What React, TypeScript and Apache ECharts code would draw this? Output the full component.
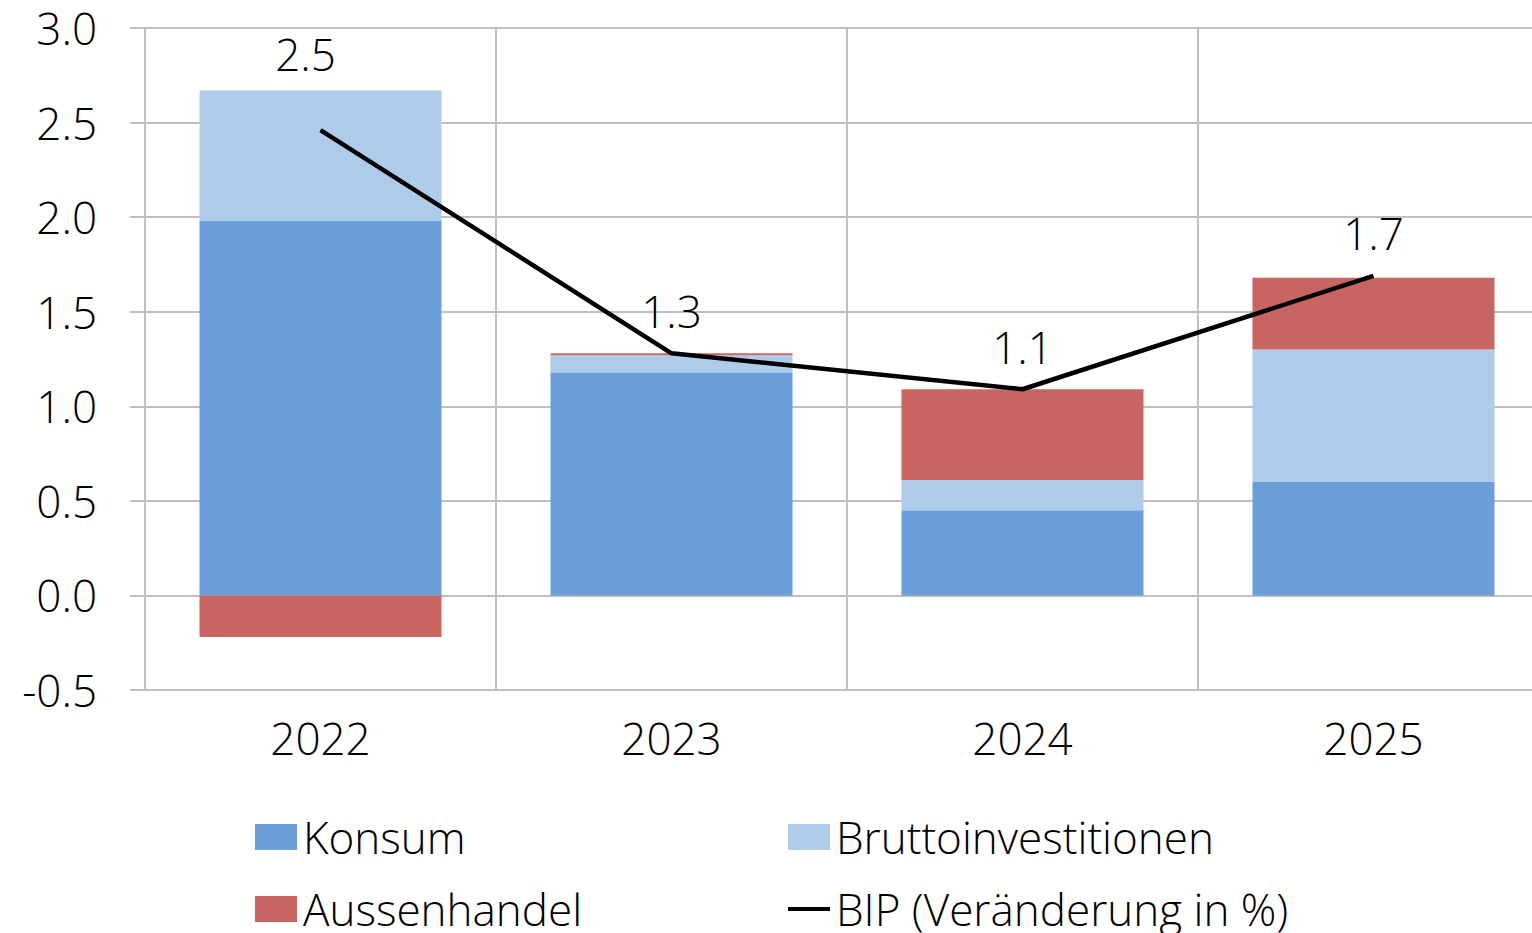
import React, { useEffect, useRef } from "react";
import * as echarts from "echarts";

const years = ["2022", "2023", "2024", "2025"];
const konsum = [1.98, 1.18, 0.45, 0.6];
const brutto = [0.69, 0.09, 0.16, 0.7];
const aussen = [-0.22, 0.01, 0.48, 0.38];
const bip = [2.46, 1.28, 1.09, 1.69];
const seriesNames = ["Konsum", "Bruttoinvestitionen", "Aussenhandel", "BIP (Veränderung in %)"];

const FONT = "Open Sans";
const FS = 44;
const FW = 300;
const GRID = "#BFBFBF";

export default function App() {
  const ref = useRef<HTMLDivElement>(null);
  useEffect(() => {
    if (!ref.current) return;
    const chart = echarts.init(ref.current, null, { renderer: "svg" });
    const legendBase = {
      orient: "horizontal",
      padding: 0,
      itemWidth: 42,
      itemHeight: 26,
      itemGap: 0,
      selectedMode: false,
      textStyle: { fontFamily: FONT, fontSize: FS, fontWeight: FW, color: "#000", lineHeight: 40, padding: [0, 0, 10, 1] },
    };
    chart.setOption({
      animation: false,
      textStyle: { fontFamily: FONT },
      grid: { left: 145, top: 28, right: 11, bottom: 243, containLabel: false },
      legend: [
        { ...legendBase, data: [{ name: seriesNames[0], icon: "rect" }], left: 255, top: 812 },
        { ...legendBase, data: [{ name: seriesNames[1], icon: "rect" }], left: 788, top: 812 },
        { ...legendBase, data: [{ name: seriesNames[2], icon: "rect" }], left: 255, top: 884 },
        {
          ...legendBase,
          data: [{ name: seriesNames[3], icon: "rect", itemStyle: { color: "#000" } }],
          left: 788,
          top: 884,
          itemHeight: 4,
        },
      ],
      xAxis: {
        type: "category",
        data: years,
        boundaryGap: true,
        axisLine: { show: true, lineStyle: { color: GRID, width: 2 } },
        axisTick: { show: false },
        splitLine: { show: true, interval: 0, lineStyle: { color: GRID, width: 2 } },
        axisLabel: { fontFamily: FONT, fontSize: FS, fontWeight: FW, color: "#000", margin: 26 },
      },
      yAxis: {
        type: "value",
        min: -0.5,
        max: 3,
        interval: 0.5,
        axisLine: { show: true, lineStyle: { color: GRID, width: 2 } },
        axisTick: { show: true, length: 15, lineStyle: { color: GRID, width: 2 } },
        splitLine: { show: true, lineStyle: { color: GRID, width: 2 } },
        axisLabel: {
          fontFamily: FONT,
          fontSize: FS,
          fontWeight: FW,
          color: "#000",
          margin: 48,
          formatter: (v: number) => v.toFixed(1),
        },
      },
      series: [
        {
          name: seriesNames[0],
          type: "bar",
          stack: "total",
          barWidth: 242,
          data: konsum,
          itemStyle: { color: "#6A9FDA" },
        },
        {
          name: seriesNames[1],
          type: "bar",
          stack: "total",
          barWidth: 242,
          data: brutto,
          itemStyle: { color: "#AECCE9" },
        },
        {
          name: seriesNames[2],
          type: "bar",
          stack: "total",
          barWidth: 242,
          data: aussen,
          itemStyle: { color: "#C86562" },
        },
        {
          name: seriesNames[3],
          type: "line",
          symbol: "circle",
          symbolSize: 0,
          showSymbol: true,
          data: bip.map((v, i) =>
            i === 0 ? { value: v, label: { offset: [-15, -34] } } : { value: v }
          ),
          lineStyle: { color: "#000", width: 4.5 },
          itemStyle: { color: "#000" },
          label: {
            show: true,
            position: "top",
            distance: 22,
            fontFamily: FONT,
            fontSize: FS,
            fontWeight: FW,
            lineHeight: 41,
            color: "#000",
            formatter: (p: any) => Number(p.value).toFixed(1),
          },
          z: 5,
        },
      ],
    });
    return () => chart.dispose();
  }, []);
  return (
    <div
      style={{ position: "absolute", left: 0, top: 0, width: 1532, height: 933, overflow: "hidden", background: "#fff" }}
    >
      <div ref={ref} style={{ width: 1560, height: 933 }} />
    </div>
  );
}
